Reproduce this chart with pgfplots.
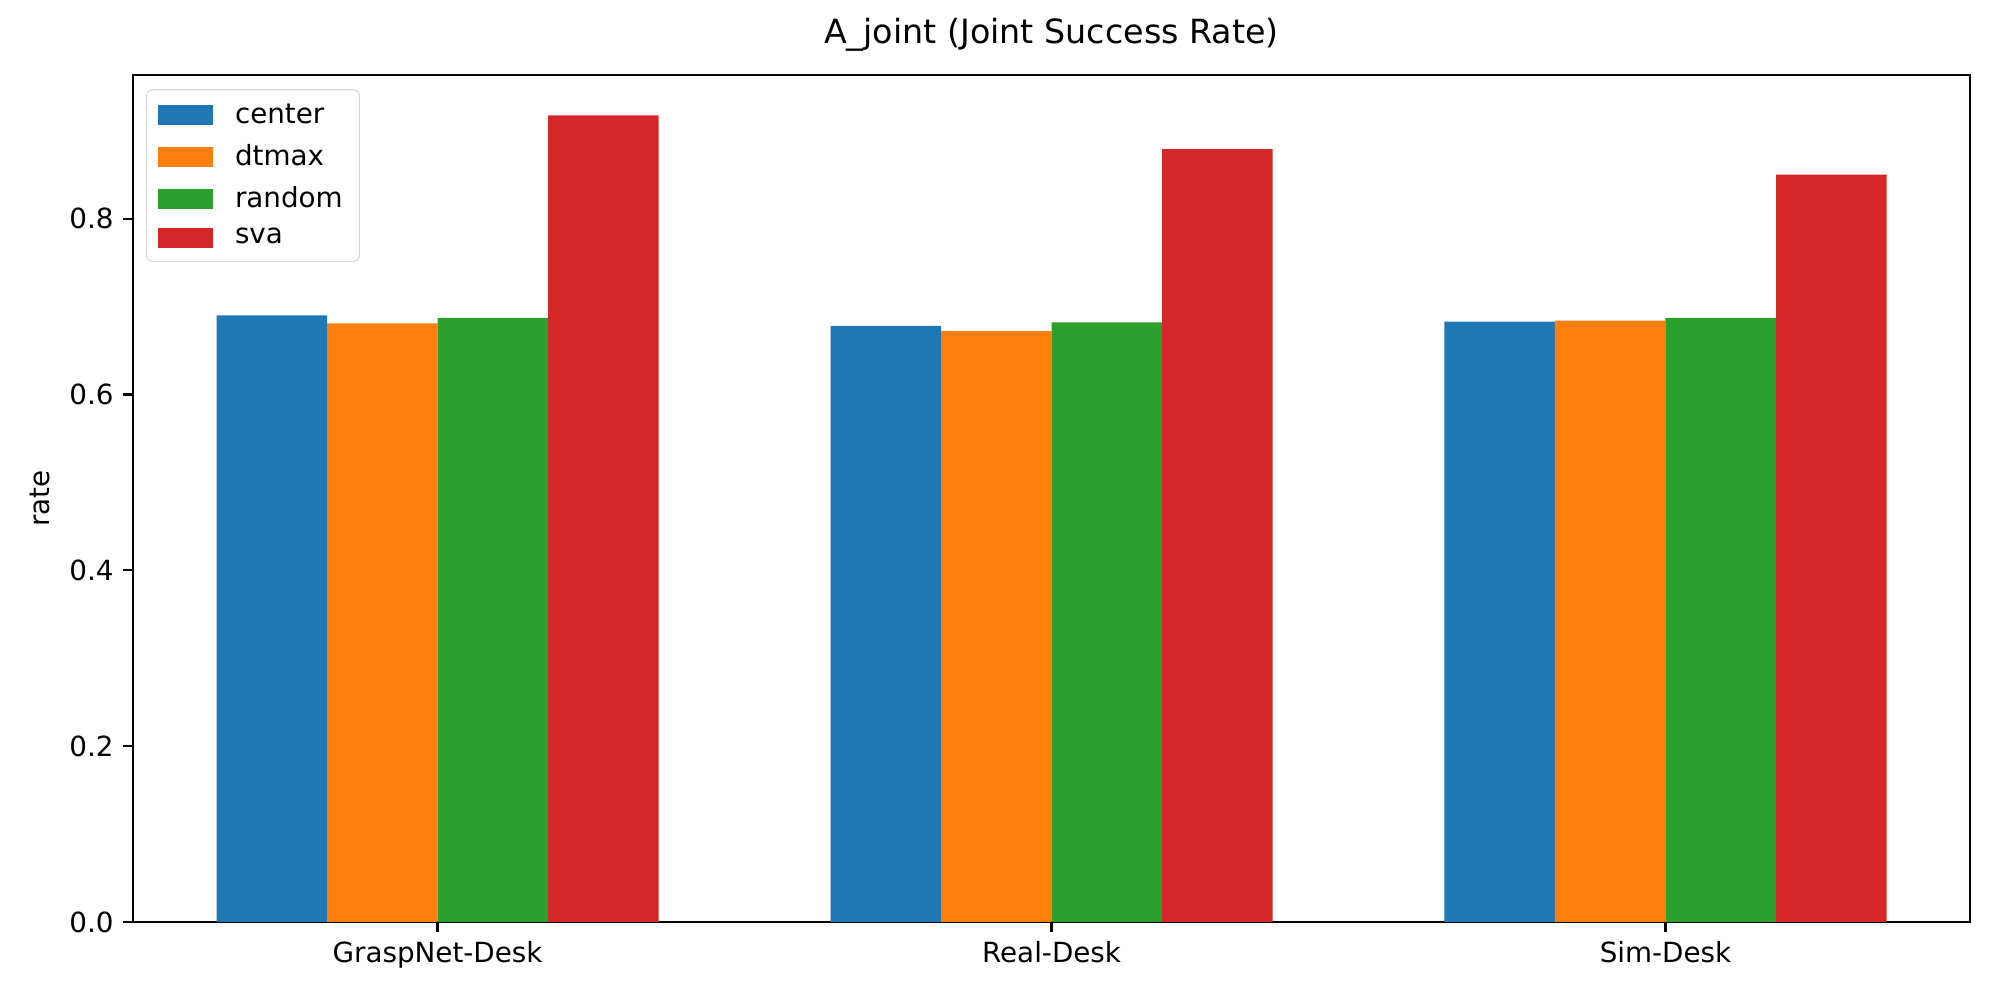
\documentclass[border=0pt]{standalone}
\usepackage{pgfplots}
\pgfplotsset{compat=1.18}
\usepackage{fontspec}
\setmainfont{DejaVu Sans}
\definecolor{tabblue}{HTML}{1F77B4}
\definecolor{taborange}{HTML}{FF7F0E}
\definecolor{tabgreen}{HTML}{2CA02C}
\definecolor{tabred}{HTML}{D62728}
\begin{document}
\begin{tikzpicture}
\useasboundingbox (0,0) rectangle (720pt,360pt);
\begin{axis}[
  at={(47.9pt,28.1pt)}, anchor=south west,
  scale only axis, width=661.3pt, height=304.9pt,
  xmin=-0.496, xmax=2.496, ymin=0, ymax=0.9634,
  xtick={0,1,2}, xticklabels={GraspNet-Desk,Real-Desk,Sim-Desk},
  ytick={0,0.2,0.4,0.6,0.8},
  yticklabel style={/pgf/number format/fixed,/pgf/number format/precision=1,/pgf/number format/fixed zerofill},
  /pgf/number format/assume math mode=true,
  tick align=outside, tick pos=left, major tick length=3.5pt,
  tick style={black, line width=0.8pt},
  axis line style={line width=0.8pt},
  ticklabel style={font=\fontsize{10}{12}\selectfont},
  ylabel={rate}, ylabel style={font=\fontsize{10}{12}\selectfont},
  title={A\_joint (Joint Success Rate)},
  title style={font=\fontsize{12}{14}\selectfont, yshift=-1pt},
  legend cell align=left,
  legend style={at={(axis description cs:0,1)}, xshift=4.7pt, yshift=-5.1pt, anchor=north west,
    draw=black!15, rounded corners=2pt, font=\fontsize{10}{12}\selectfont,
    row sep=2.0pt, inner xsep=4pt, inner ysep=3pt,
    /tikz/every odd column/.append style={column sep=6pt}},
  legend image code/.code={\fill[#1, sharp corners] (0pt,-3.6pt) rectangle (19.8pt,3.6pt);},
]
\addplot[ybar, bar width=0.18, bar shift=-0.27, fill=tabblue, draw=none] coordinates {(0,0.690) (1,0.678) (2,0.683)};
\addlegendentry{center}
\addplot[ybar, bar width=0.18, bar shift=-0.09, fill=taborange, draw=none] coordinates {(0,0.681) (1,0.672) (2,0.684)};
\addlegendentry{dtmax}
\addplot[ybar, bar width=0.18, bar shift=0.09, fill=tabgreen, draw=none] coordinates {(0,0.687) (1,0.682) (2,0.687)};
\addlegendentry{random}
\addplot[ybar, bar width=0.18, bar shift=0.27, fill=tabred, draw=none] coordinates {(0,0.9175) (1,0.879) (2,0.850)};
\addlegendentry{sva}
\end{axis}
\end{tikzpicture}
\end{document}
